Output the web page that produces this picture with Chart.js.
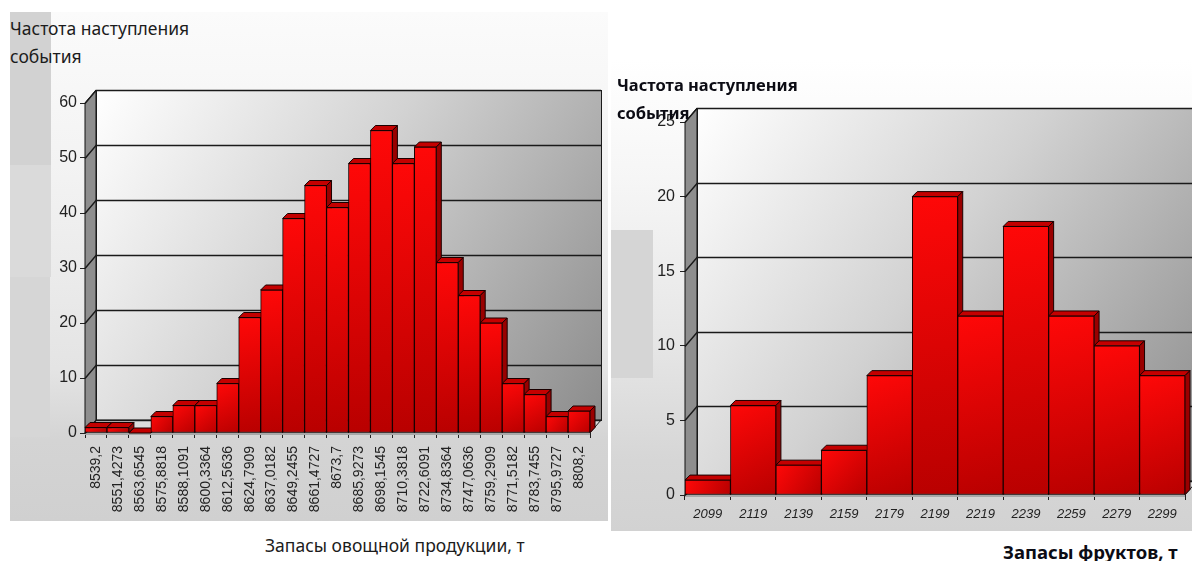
<!DOCTYPE html>
<html lang="ru">
<head>
  <meta charset="UTF-8" />
  <title>Частота наступления события</title>
  <script src="https://cdn.jsdelivr.net/npm/chart.js"></script>
  <style>
    body {
      margin: 0;
      width: 1192px;
      height: 561px;
      overflow: hidden;
      background: #ffffff;
      position: relative;
      font-family: 'Noto Sans', sans-serif;
    }
    .panel { position: absolute; }
    #vegPanel {
      left: 10px; top: 12px; width: 598px; height: 509px;
      background: linear-gradient(to bottom, #fbfbfb 0%, #f3f3f3 30%, #e4e4e4 70%, #d4d4d4 84%, #d0d0d0 100%);
    }
    #fruitPanel {
      left: 611px; top: 60px; width: 581px; height: 471px;
      background: linear-gradient(to bottom, #ffffff 0%, #f6f6f6 25%, #e6e6e6 60%, #d6d6d6 85%, #d2d2d2 100%);
    }
    .block { position: absolute; }
    canvas { position: absolute; }
    .ttl {
      position: absolute;
      font-size: 17.5px;
      line-height: 28px;
      color: #1c1c1c;
      white-space: nowrap;
    }
    .axis-ttl {
      position: absolute;
      font-size: 17.5px;
      line-height: 20px;
      color: #1c1c1c;
      white-space: nowrap;
    }
    .bold { font-weight: bold; color: #0c0c14; }
  </style>
</head>
<body>

  <!-- backgrounds -->
  <div class="panel" id="vegPanel"></div>
  <div class="block" style="left:10px;top:12px;width:41px;height:153px;background:#d2d2d2"></div>
  <div class="block" style="left:10px;top:165px;width:41px;height:112px;background:#dadada"></div>
  <div class="block" style="left:10px;top:277px;width:40px;height:160px;background:#d6d6d6"></div>

  <div class="panel" id="fruitPanel"></div>
  <div class="block" style="left:611px;top:230px;width:42px;height:148px;background:#d5d5d5"></div>

  <canvas id="vegChart" width="570" height="450" style="left:40px;top:80px"></canvas>
  <canvas id="fruitChart" width="552" height="431" style="left:640px;top:100px"></canvas>

  <div class="ttl" style="left:10px;top:14px">Частота наступления<br>события</div>
  <div class="axis-ttl" style="left:265px;top:535px">Запасы овощной продукции, т</div>

  <div class="ttl bold" style="left:617px;top:71px;font-size:16.5px">Частота наступления<br>события</div>
  <div class="axis-ttl bold" style="left:1003px;top:542px;font-size:18.5px">Запасы фруктов, т</div>

  <script>
    // vegetable stocks histogram
    const vegLabels = ['8539,2', '8551,4273', '8563,6545', '8575,8818', '8588,1091', '8600,3364',
      '8612,5636', '8624,7909', '8637,0182', '8649,2455', '8661,4727', '8673,7', '8685,9273',
      '8698,1545', '8710,3818', '8722,6091', '8734,8364', '8747,0636', '8759,2909', '8771,5182',
      '8783,7455', '8795,9727', '8808,2'];
    const vegCounts = [1, 1, 0, 3, 5, 5, 9, 21, 26, 39, 45, 41, 49, 55, 49, 52, 31, 25, 20, 9, 7, 3, 4];
    const vegMax = 60;
    const vegStep = 10;

    // fruit stocks histogram
    const fruitLabels = ['2099', '2119', '2139', '2159', '2179', '2199', '2219', '2239', '2259', '2279', '2299'];
    const fruitCounts = [1, 6, 2, 3, 8, 20, 12, 18, 12, 10, 8];
    const fruitMax = 25;
    const fruitStep = 5;

    const numFont = "'Liberation Sans', Arial, sans-serif";

    function poly(ctx, pts, fill, stroke) {
      ctx.beginPath();
      ctx.moveTo(pts[0][0], pts[0][1]);
      for (let i = 1; i < pts.length; i++) ctx.lineTo(pts[i][0], pts[i][1]);
      ctx.closePath();
      if (fill) { ctx.fillStyle = fill; ctx.fill(); }
      if (stroke) { ctx.strokeStyle = stroke; ctx.stroke(); }
    }

    // walls, floor, grid and the depth faces of the bars (front faces are drawn by Chart.js)
    const box3d = {
      id: 'box3d',
      beforeDatasetsDraw(chart, args, opts) {
        const { ctx, chartArea: a, scales } = chart;
        const dx = opts.dx, dy = opts.dy;
        const bdx = opts.bdx, bdy = opts.bdy;
        const ys = scales.y;
        ctx.save();
        ctx.lineWidth = 1;

        // back wall
        const g = ctx.createLinearGradient(a.left + dx, a.top + dy, a.right + dx, a.bottom + dy);
        g.addColorStop(0, '#ffffff');
        g.addColorStop(0.45, '#d2d2d2');
        g.addColorStop(1, '#8c8c8c');
        ctx.fillStyle = g;
        ctx.fillRect(a.left + dx, a.top + dy, a.width, a.height);

        // side wall
        poly(ctx, [[a.left, a.top], [a.left + dx, a.top + dy], [a.left + dx, a.bottom + dy], [a.left, a.bottom]], '#8e8e8e', '#111');

        // floor
        poly(ctx, [[a.left, a.bottom], [a.left + dx, a.bottom + dy], [a.right + dx, a.bottom + dy], [a.right, a.bottom]], '#dcdcdc', '#222');
        ctx.fillStyle = '#a8a8a8';
        ctx.fillRect(a.left, a.bottom, a.width, 2);

        // grid lines
        ctx.lineWidth = 1.4;
        ctx.strokeStyle = '#1a1a1a';
        ys.ticks.forEach(t => {
          const py = Math.round(ys.getPixelForValue(t.value)) + 0.5;
          ctx.beginPath();
          ctx.moveTo(a.left, py);
          ctx.lineTo(a.left + dx, py + dy);
          ctx.lineTo(a.right + dx, py + dy);
          ctx.stroke();
        });
        ctx.lineWidth = 1;
        ctx.strokeRect(a.left + dx + 0.5, a.top + dy + 0.5, a.width, a.height);

        // bar tops and sides
        const meta = chart.getDatasetMeta(0);
        meta.data.forEach(bar => {
          const p = bar.getProps(['x', 'y', 'base', 'width'], true);
          const x0 = p.x - p.width / 2, x1 = p.x + p.width / 2;
          poly(ctx, [[x0, p.y], [x0 + bdx, p.y + bdy], [x1 + bdx, p.y + bdy], [x1, p.y]], '#c40000', '#1a0000');
          poly(ctx, [[x1, p.y], [x1 + bdx, p.y + bdy], [x1 + bdx, p.base + bdy], [x1, p.base]], '#9a0000', '#1a0000');
        });
        ctx.restore();
      }
    };

    function barFill(c) {
      const chart = c.chart;
      const { ctx, chartArea, scales } = chart;
      if (!chartArea) return '#e00000';
      const n = chart.data.labels.length;
      const w = chartArea.width / n;
      const cx = scales.x.getPixelForValue(c.dataIndex);
      const top = scales.y.getPixelForValue(c.raw);
      const base = scales.y.getPixelForValue(0);
      const g = ctx.createLinearGradient(cx - w / 2, top, cx + w / 2, base);
      g.addColorStop(0, '#ff0808');
      g.addColorStop(1, '#b80000');
      return g;
    }

    function makeChart(id, labels, counts, max, step, cfg) {
      return new Chart(document.getElementById(id), {
        type: 'bar',
        data: {
          labels: labels,
          datasets: [{
            data: counts,
            backgroundColor: barFill,
            borderColor: '#1a0000',
            borderWidth: 1,
            borderSkipped: false,
            barPercentage: 1,
            categoryPercentage: 1
          }]
        },
        options: {
          responsive: false,
          animation: false,
          layout: { padding: cfg.padding },
          plugins: {
            legend: { display: false },
            tooltip: { enabled: false },
            box3d: { dx: cfg.dx, dy: cfg.dy, bdx: 5, bdy: -5 }
          },
          scales: {
            x: {
              grid: { display: true, drawOnChartArea: false, tickLength: 5, color: '#222', offset: true },
              border: { display: true, color: '#222' },
              ticks: {
                autoSkip: false,
                minRotation: cfg.rot,
                maxRotation: cfg.rot,
                padding: cfg.xPad,
                color: '#222',
                font: { family: numFont, size: cfg.xSize, style: cfg.xStyle }
              },
              afterFit: s => { s.height = cfg.xHeight; }
            },
            y: {
              min: 0,
              max: max,
              grid: { display: true, drawOnChartArea: false, tickLength: 5, color: '#222' },
              border: { display: true, color: '#222' },
              ticks: {
                stepSize: step,
                padding: cfg.yPad,
                color: '#222',
                font: { family: numFont, size: 16 }
              },
              afterFit: s => { s.width = 45; }
            }
          }
        },
        plugins: [box3d]
      });
    }

    makeChart('vegChart', vegLabels, vegCounts, vegMax, vegStep, {
      padding: { top: 23, right: 20, bottom: 0, left: 0 },
      dx: 11, dy: -13, rot: 90, xPad: 8, xSize: 14, xStyle: 'normal', xHeight: 97, yPad: 3
    });

    makeChart('fruitChart', fruitLabels, fruitCounts, fruitMax, fruitStep, {
      padding: { top: 22, right: 7, bottom: 0, left: 0 },
      dx: 12, dy: -14, rot: 0, xPad: 7, xSize: 13, xStyle: 'italic', xHeight: 36, yPad: 5
    });
  </script>
</body>
</html>
